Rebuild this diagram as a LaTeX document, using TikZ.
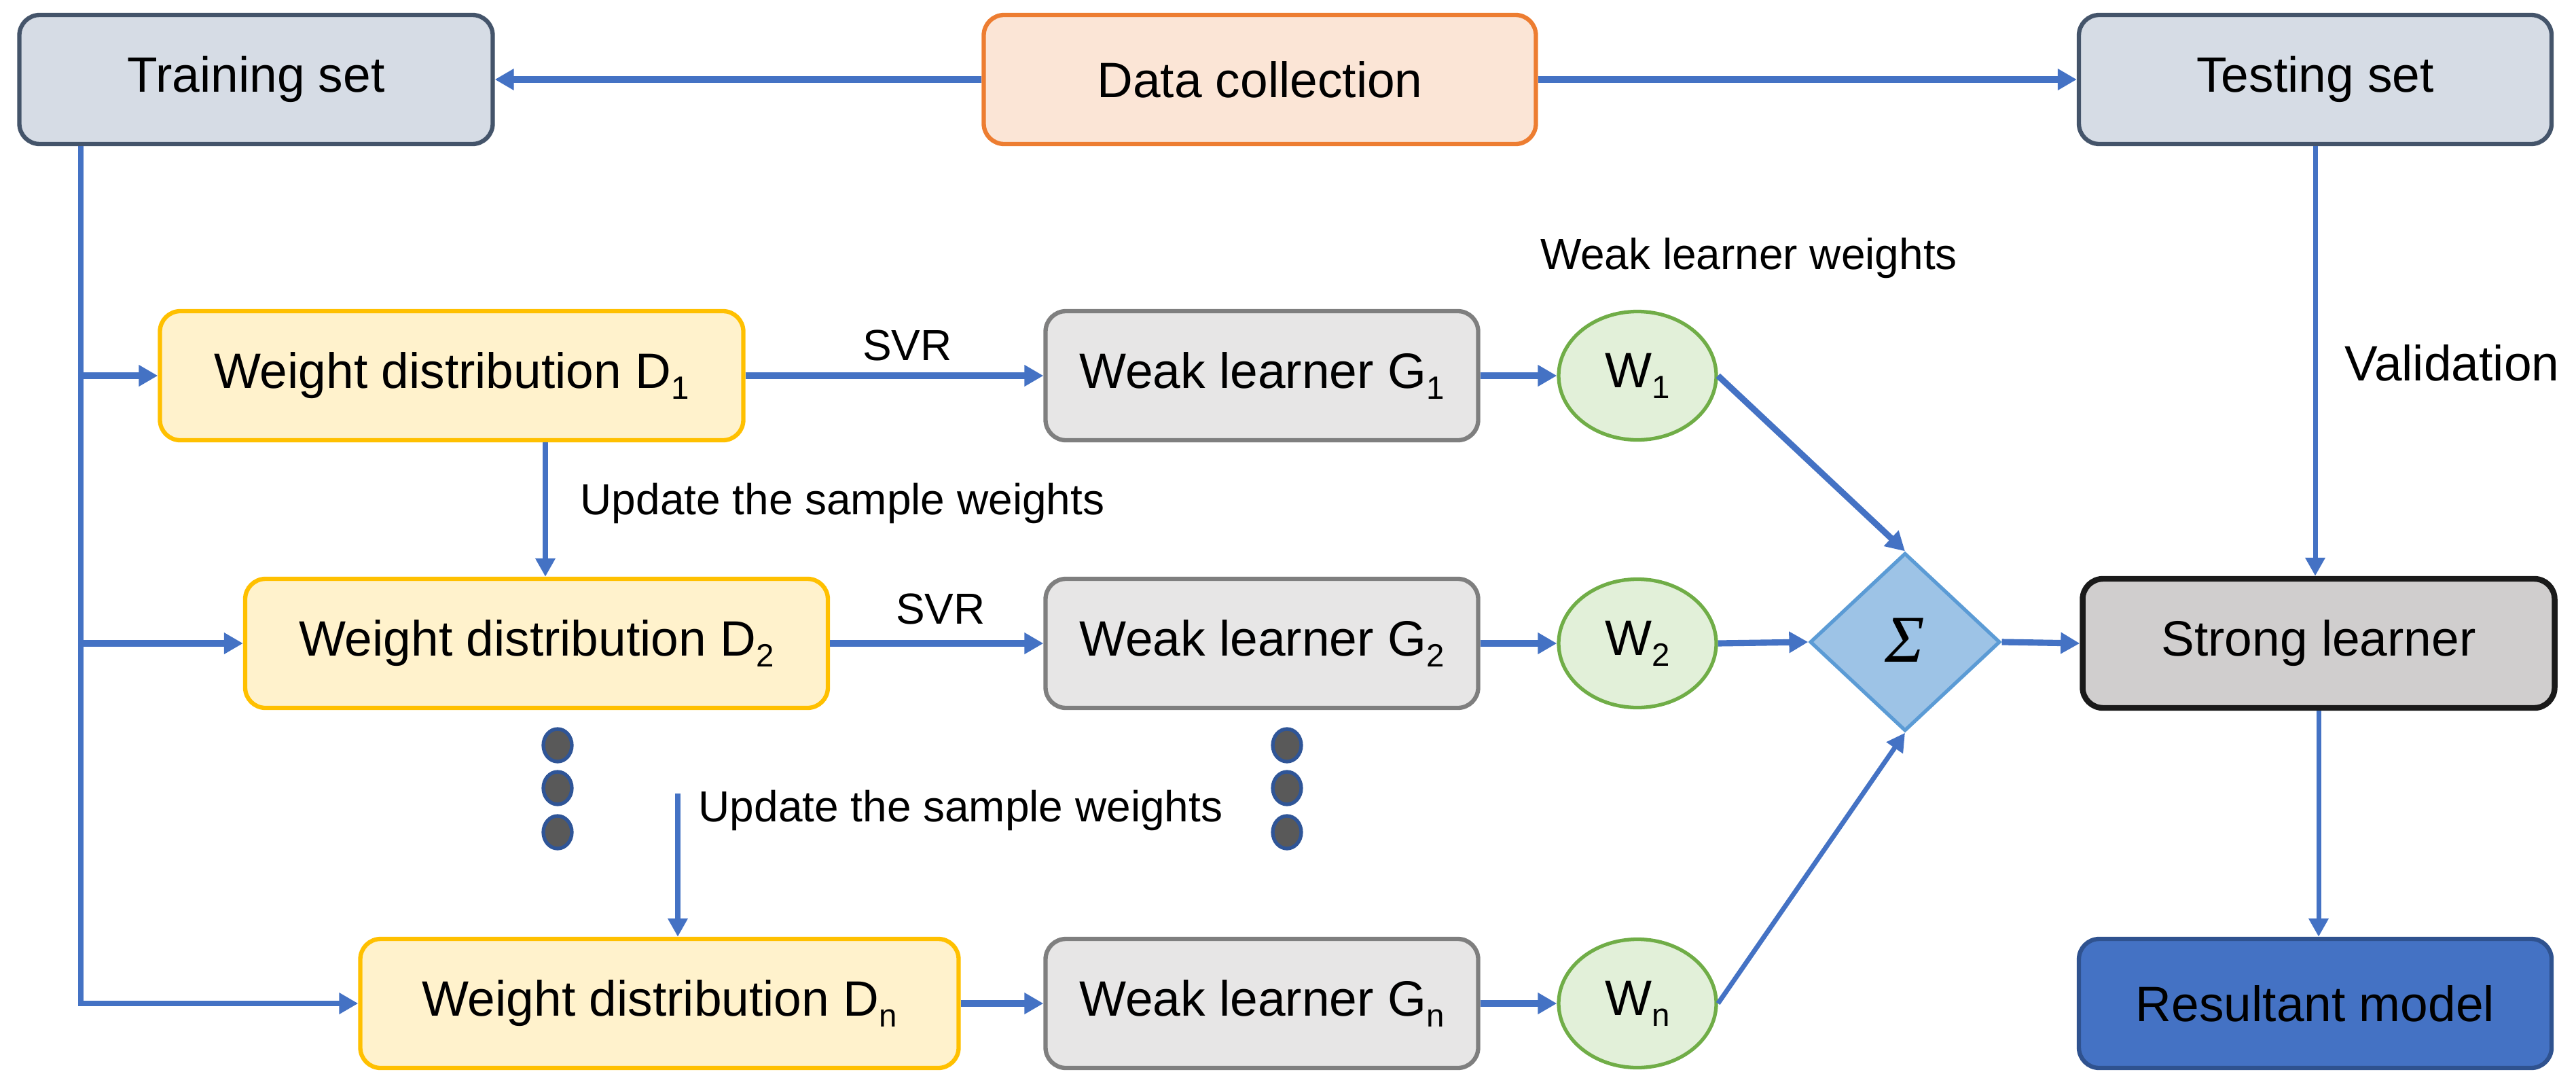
\documentclass[tikz,border=0pt]{standalone}
\usepackage{fontspec}
\setmainfont{Liberation Sans}
\newfontfamily\sigfont{Liberation Serif}
\usetikzlibrary{arrows.meta,shapes.geometric}
\definecolor{arrowblue}{HTML}{4472C4}
\definecolor{tsfill}{HTML}{D6DCE5}
\definecolor{tsdraw}{HTML}{44546A}
\definecolor{dcfill}{HTML}{FBE5D6}
\definecolor{dcdraw}{HTML}{ED7D31}
\definecolor{yfill}{HTML}{FFF2CC}
\definecolor{ydraw}{HTML}{FFC000}
\definecolor{gfill}{HTML}{E7E6E6}
\definecolor{gdraw}{HTML}{7F7F7F}
\definecolor{wfill}{HTML}{E2F0D9}
\definecolor{wdraw}{HTML}{70AD47}
\definecolor{sfill}{HTML}{9DC3E6}
\definecolor{sdraw}{HTML}{5B9BD5}
\definecolor{stfill}{HTML}{D0CECE}
\definecolor{stdraw}{HTML}{1A1A1A}
\definecolor{rfill}{HTML}{4472C4}
\definecolor{rdraw}{HTML}{2F528F}
\definecolor{dotfill}{HTML}{595959}
\definecolor{dotdraw}{HTML}{2F5597}
\newcommand{\bxfont}{\fontsize{20.8}{25}\selectfont}
\newcommand{\lbfont}{\fontsize{18.2}{22}\selectfont}
\newcommand{\sbs}[1]{\raisebox{-0.22em}{\fontsize{13.5}{14}\selectfont #1}}
\tikzset{
  basebox/.style={rounded corners=0.3cm, minimum height=1.9cm, inner sep=0pt, font=\bxfont, line width=1.8pt, align=center},
  tsbox/.style={basebox, fill=tsfill, draw=tsdraw},
  dcbox/.style={basebox, fill=dcfill, draw=dcdraw},
  ybox/.style={basebox, fill=yfill, draw=ydraw},
  gbox/.style={basebox, fill=gfill, draw=gdraw, minimum width=6.37cm},
  stbox/.style={basebox, fill=stfill, draw=stdraw, line width=2.4pt},
  rbox/.style={basebox, fill=rfill, draw=rdraw},
  wnode/.style={ellipse, fill=wfill, draw=wdraw, line width=1.5pt, minimum width=2.32cm, minimum height=1.89cm, inner sep=0pt, font=\bxfont},
  signode/.style={diamond, fill=sfill, draw=sdraw, line width=1.5pt, minimum width=2.8cm, minimum height=2.62cm, inner sep=0pt},
  dotnode/.style={ellipse, fill=dotfill, draw=dotdraw, line width=1.5pt, minimum width=0.42cm, minimum height=0.48cm, inner sep=0pt},
  lbl/.style={font=\lbfont, inner sep=0pt},
  lblbig/.style={font=\bxfont, inner sep=0pt},
  arr/.style={draw=arrowblue, line width=2.6pt, -{Triangle[length=0.28cm,width=0.30cm]}},
  arrthin/.style={draw=arrowblue, line width=2pt, -{Triangle[length=0.27cm,width=0.28cm]}},
  trunk/.style={draw=arrowblue, line width=2.2pt, -{Triangle[length=0.28cm,width=0.30cm]}}
}
\begin{document}
\begin{tikzpicture}
\useasboundingbox (0,0) rectangle (37.93,-15.99);
% top row
\node[tsbox, minimum width=6.97cm] (train) at (3.77,-1.17) {Training set};
\node[dcbox, minimum width=8.13cm] (data) at (18.55,-1.17) {Data collection};
\node[tsbox, minimum width=6.96cm] (test) at (34.09,-1.17) {Testing set};
% rows
\node[ybox, minimum width=8.59cm] (d1) at (6.65,-5.53) {Weight distribution D\sbs{1}};
\node[gbox] (g1) at (18.58,-5.53) {Weak learner G\sbs{1}};
\node[wnode] (w1) at (24.11,-5.53) {W\sbs{1}};
\node[ybox, minimum width=8.58cm] (d2) at (7.90,-9.47) {Weight distribution D\sbs{2}};
\node[gbox] (g2) at (18.58,-9.47) {Weak learner G\sbs{2}};
\node[wnode] (w2) at (24.11,-9.47) {W\sbs{2}};
\node[ybox, minimum width=8.81cm] (dn) at (9.71,-14.77) {Weight distribution D\sbs{n}};
\node[gbox] (gn) at (18.58,-14.77) {Weak learner G\sbs{n}};
\node[wnode] (wn) at (24.11,-14.77) {W\sbs{n}};
% sum and outputs
\node[signode] (sigma) at (28.05,-9.45) {};
\node[inner sep=0pt, font={\sigfont\itshape\fontsize{28}{30}\selectfont}] (sigtxt) at (28.05,-9.42) {Σ};
\node[stbox, minimum width=6.95cm] (strong) at (34.14,-9.47) {Strong learner};
\node[rbox, minimum width=6.96cm] (res) at (34.09,-14.77) {Resultant model};
% dots
\node[dotnode] (a1) at (8.21,-10.97) {};
\node[dotnode] (a2) at (8.21,-11.60) {};
\node[dotnode] (a3) at (8.21,-12.25) {};
\node[dotnode] (b1) at (18.95,-10.97) {};
\node[dotnode] (b2) at (18.95,-11.60) {};
\node[dotnode] (b3) at (18.95,-12.25) {};
% labels
\node[lbl] (svr1) at (13.36,-5.08) {SVR};
\node[lbl] (svr2) at (13.85,-8.96) {SVR};
\node[lbl, anchor=west] (up1) at (8.54,-7.41) {Update the sample weights};
\node[lbl, anchor=west] (up2) at (10.28,-11.93) {Update the sample weights};
\node[lbl] (wlw) at (25.75,-3.80) {Weak learner weights};
\node[lblbig, anchor=west] (val) at (34.52,-5.34) {Validation};
% connectors
\draw[arr] (data.west) -- (train.east);
\draw[arr] (data.east) -- (test.west);
\coordinate (tx) at (1.19,0);
\draw[trunk] (train.south -| tx) -- (tx |- dn.west) -- (dn.west);
\draw[arr] (tx |- d1.west) -- (d1.west);
\draw[arr] (tx |- d2.west) -- (d2.west);
\coordinate (u1x) at (8.03,0);
\draw[arrthin] (u1x |- d1.south) -- (u1x |- d2.north);
\coordinate (u2s) at (9.98,-11.68);
\draw[arrthin] (u2s) -- (u2s |- dn.north);
\draw[arr] (d1.east) -- (g1.west);
\draw[arr] (d2.east) -- (g2.west);
\draw[arr] (dn.east) -- (gn.west);
\draw[arr] (g1.east) -- (w1.west);
\draw[arr] (g2.east) -- (w2.west);
\draw[arr] (gn.east) -- (wn.west);
\draw[arr] (w1.east) -- (sigma.north);
\draw[arr] (w2.east) -- (sigma.west);
\draw[arrthin] (wn.east) -- (sigma.south);
\draw[arr] (sigma.east) -- (strong.west);
\draw[arrthin] (test.south) -- (test.south |- strong.north);
\draw[arrthin] (strong.south) -- (strong.south |- res.north);
\end{tikzpicture}
\end{document}
